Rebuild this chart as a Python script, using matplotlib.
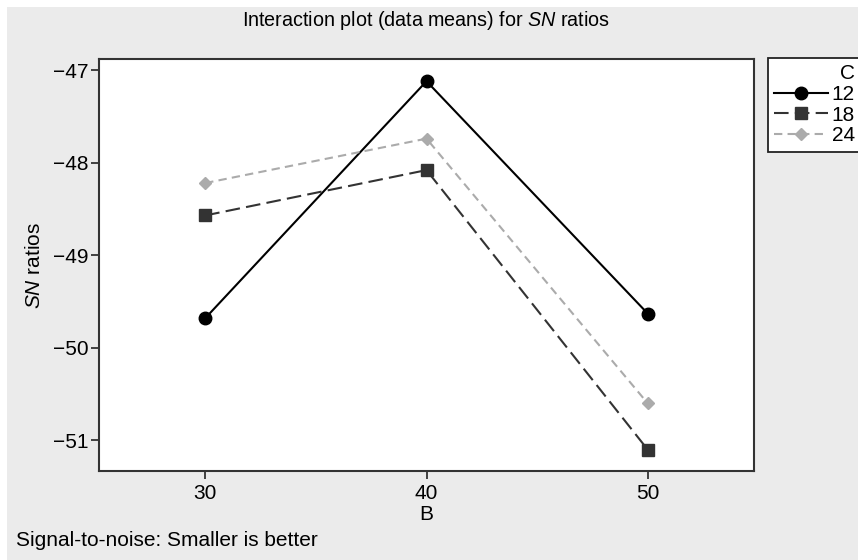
import matplotlib
matplotlib.use("Agg")
import matplotlib.pyplot as plt
from matplotlib.lines import Line2D
from matplotlib.patches import Rectangle

plt.rcParams["font.family"] = ["Liberation Sans", "DejaVu Sans"]
plt.rcParams["mathtext.fontset"] = "custom"
plt.rcParams["mathtext.rm"] = "Liberation Sans"
plt.rcParams["mathtext.it"] = "Liberation Sans:italic"

# data means of SN ratios, by level of B, one series per level of C
B_levels = [30, 40, 50]
C_levels = ["12", "18", "24"]
sn_c12 = [-49.68, -47.12, -49.63]
sn_c18 = [-48.57, -48.08, -51.10]
sn_c24 = [-48.22, -47.74, -50.60]

W, H = 858, 560
FS = 15
fig = plt.figure(figsize=(W / 100, H / 100), dpi=100, facecolor="white")
fig.patches.append(Rectangle((7 / W, 0), 1, 1 - 7 / H, transform=fig.transFigure,
                             facecolor="#ebebeb", edgecolor="none", zorder=-10))

ax = fig.add_axes([99 / W, 1 - 471 / H, (754 - 99) / W, (471 - 59) / H])
ax.set_facecolor("white")

styles = [
    dict(color="black", ls="-", marker="o", ms=9),
    dict(color="#333333", ls=(0, (7, 3)), marker="s", ms=8),
    dict(color="#ababab", ls=(0, (4, 2.5)), marker="D", ms=6.5),
]
series = [sn_c12, sn_c18, sn_c24]
for vals, st, lab in zip(series, styles, C_levels):
    ax.plot(B_levels, vals, lw=1.5, label=lab, **st)

ax.set_xlim(25.2, 54.8)
ax.set_ylim(-51.33, -46.88)
ax.set_xticks(B_levels)
ax.set_yticks([-47, -48, -49, -50, -51])
ax.set_yticklabels(["\u221247", "\u221248", "\u221249", "\u221250", "\u221251"])
ax.tick_params(direction="out", length=6, width=1.3, color="#333333",
               labelsize=FS, pad=1.5)
ax.tick_params(axis="x", pad=3.5)
for s in ax.spines.values():
    s.set_color("#333333")
    s.set_linewidth(1.5)

fig.text(426 / W, 1 - 20 / H, r"Interaction plot (data means) for $\mathit{SN}$ ratios",
         ha="center", va="center", fontsize=14.2)
fig.text(35 / W, 1 - 265 / H, r"$\mathit{SN}$ ratios", rotation=90,
         ha="center", va="center", fontsize=FS)
fig.text(426 / W, 1 - 514 / H, "B", ha="center", va="center", fontsize=FS)
fig.text(16 / W, 1 - 540 / H, "Signal-to-noise: Smaller is better",
         ha="left", va="center", fontsize=FS)

handles = [Line2D([], [], lw=1.5, **st) for st in styles]
leg = fig.legend(handles, C_levels, title="C", loc="upper left",
                 bbox_to_anchor=(768 / W, 1 - 58 / H), fontsize=FS,
                 title_fontsize=FS, frameon=True, fancybox=False,
                 edgecolor="#222222", facecolor="white", framealpha=1,
                 handlelength=2.6, handletextpad=0.15, labelspacing=0.08,
                 borderpad=0.3, borderaxespad=0, alignment="right")
leg.get_frame().set_linewidth(1.3)

fig.savefig("out.png", dpi=100, facecolor=fig.get_facecolor())
